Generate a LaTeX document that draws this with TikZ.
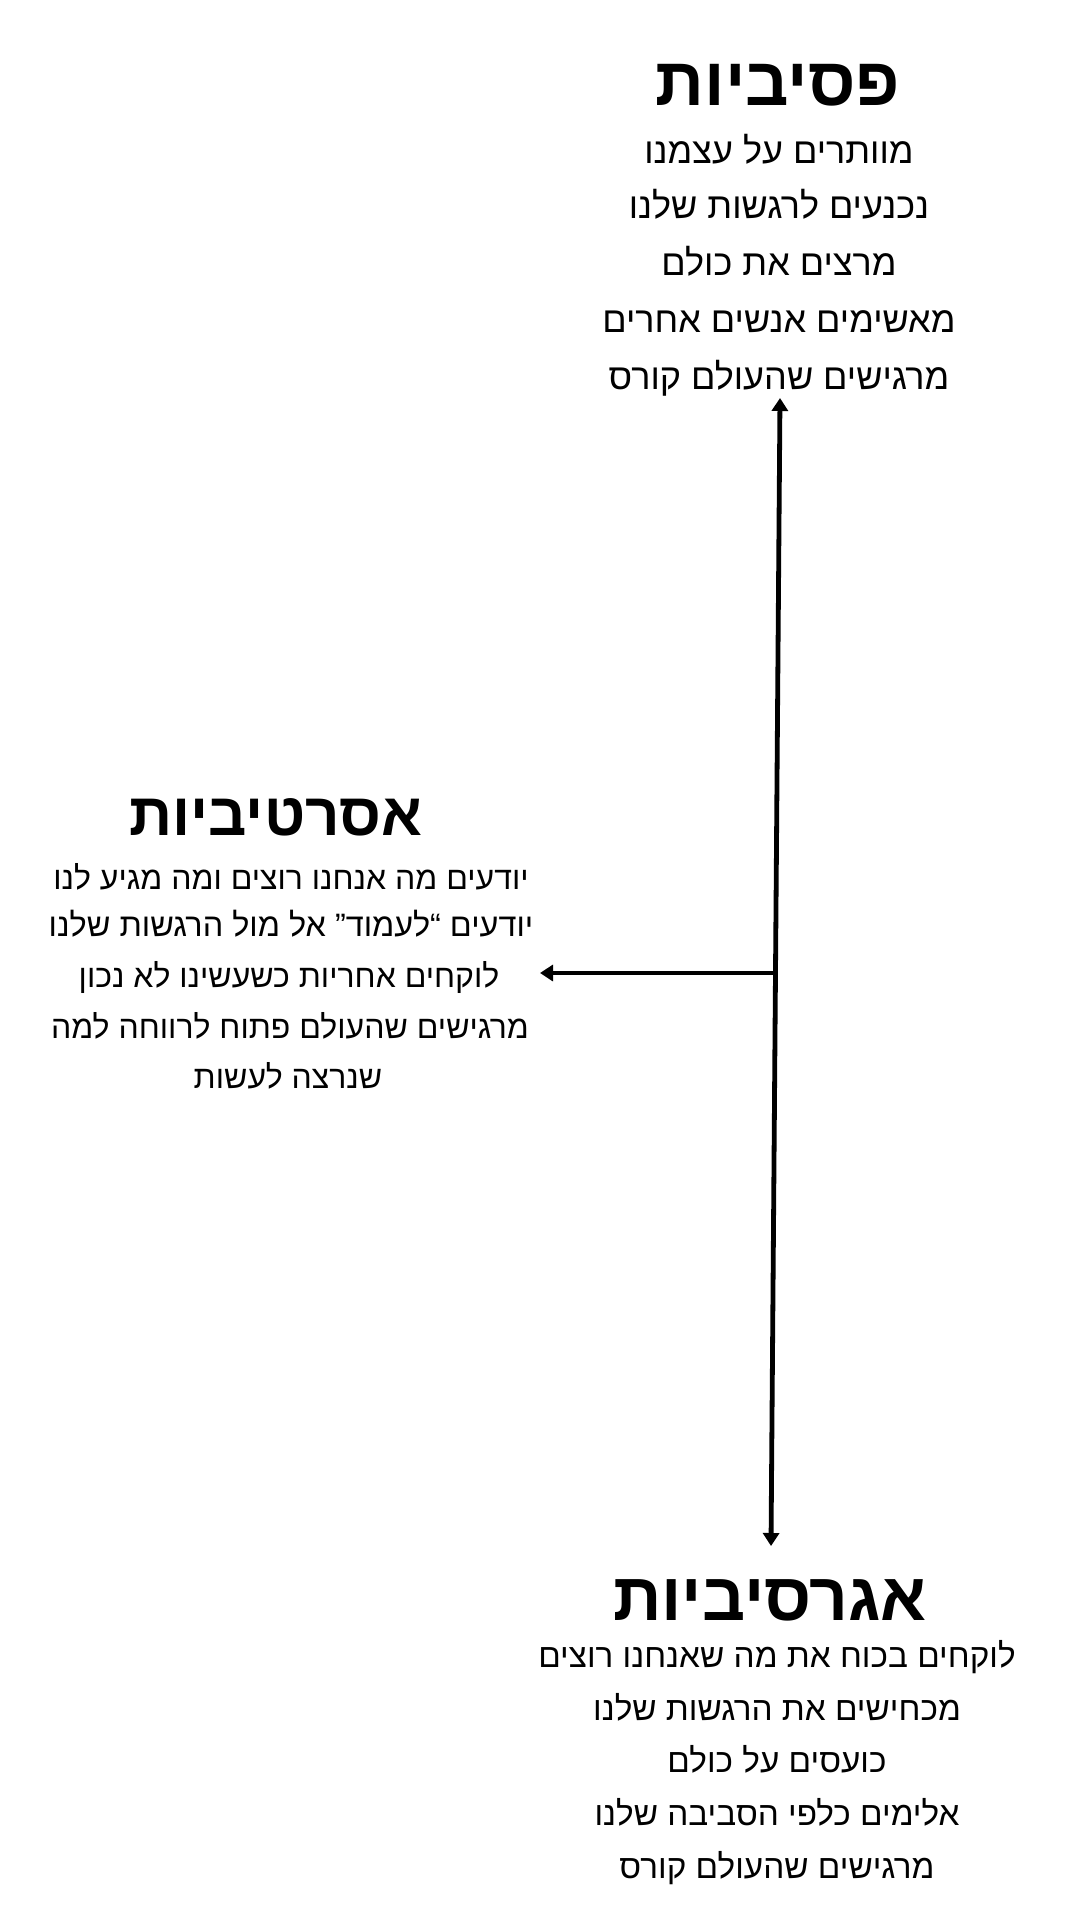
\documentclass[tikz,border=0pt]{standalone}
\usepackage{fontspec}
\TeXXeTstate=1
\newfontfamily\heb[Script=Hebrew]{Liberation Sans}
\newfontfamily\hebbold[Script=Hebrew]{Liberation Sans Bold}
\usetikzlibrary{arrows.meta}
\begin{document}
\begin{tikzpicture}[x=1pt,y=-1pt,
  titletext/.style={inner sep=0pt,anchor=base,font=\hebbold\fontsize{#1}{#1}\selectfont},
  bodytext/.style={inner sep=0pt,anchor=base,font=\heb\fontsize{#1}{#1}\selectfont},
  tip/.style={Triangle[length=13pt,width=16pt]},
  conn/.style={line width=4.8pt,-{Triangle[length=13pt,width=16pt]}},
  conn2/.style={line width=4.8pt,{Triangle[length=13pt,width=16pt]}-{Triangle[length=13pt,width=16pt]}}]
\path[use as bounding box,fill=white] (0,0) rectangle (1080,1920);
% top block
\node[titletext=68] (ptitle) at (778,105) {\beginR פסיביות\endR};
\node[bodytext=36] (p1) at (779,163) {\beginR מוותרים על עצמנו\endR};
\node[bodytext=36] (p2) at (779,218) {\beginR נכנעים לרגשות שלנו\endR};
\node[bodytext=36] (p3) at (779,275) {\beginR מרצים את כולם\endR};
\node[bodytext=36] (p4) at (779,332) {\beginR מאשימים אנשים אחרים\endR};
\node[bodytext=36] (p5) at (779,389) {\beginR מרגישים שהעולם קורס\endR};
% left block
\node[titletext=60] (atitle) at (276,835) {\beginR אסרטיביות\endR};
\node[bodytext=32] (a1) at (291,889) {\beginR יודעים מה אנחנו רוצים ומה מגיע לנו\endR};
\node[bodytext=32.4] (a2) at (291,936) {\beginR יודעים “לעמוד” אל מול הרגשות שלנו\endR};
\node[bodytext=32] (a3) at (289,987) {\beginR לוקחים אחריות כשעשינו לא נכון\endR};
\node[bodytext=32] (a4) at (290,1038) {\beginR מרגישים שהעולם פתוח לרווחה למה\endR};
\node[bodytext=32] (a5) at (288,1088) {\beginR שנרצה לעשות\endR};
% bottom block
\node[titletext=67.5] (gtitle) at (770,1620) {\beginR אגרסיביות\endR};
\node[bodytext=33.3] (g1) at (777,1667) {\beginR לוקחים בכוח את מה שאנחנו רוצים\endR};
\node[bodytext=33.3] (g2) at (777,1720) {\beginR מכחישים את הרגשות שלנו\endR};
\node[bodytext=33.3] (g3) at (777,1772) {\beginR כועסים על כולם\endR};
\node[bodytext=33.3] (g4) at (777,1825) {\beginR אלימים כלפי הסביבה שלנו\endR};
\node[bodytext=33.3] (g5) at (777,1878) {\beginR מרגישים שהעולם קורס\endR};
% connectors
\coordinate (top) at (780,398);
\coordinate (bot) at (771,1546);
\coordinate (mid) at (775.5,973);
\coordinate (left) at (540,973);
\draw[conn2] (bot) -- (top);
\draw[conn] (mid) -- (left);
\end{tikzpicture}
\end{document}
